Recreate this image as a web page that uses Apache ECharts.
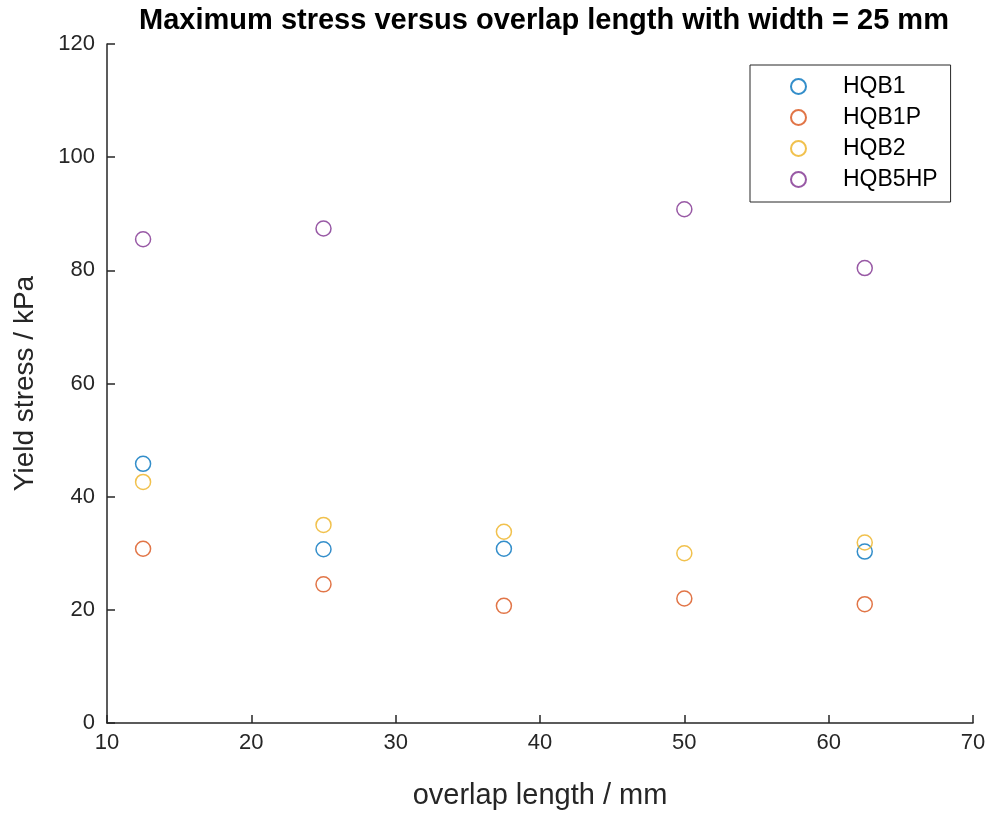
<!DOCTYPE html>
<html>
<head>
<meta charset="utf-8">
<script src="https://cdn.jsdelivr.net/npm/echarts@6/dist/echarts.min.js"></script>
<style>
  html, body { margin: 0; padding: 0; background: #fff; }
  #chart { width: 992px; height: 815px; }
</style>
</head>
<body>
<div id="chart"></div>
<script>
// Overlap lengths (mm) at which each specimen set was tested
const overlapLengths = [12.5, 25, 37.5, 50, 62.5];

// Maximum (yield) stress in kPa per specimen set; null = no measurement
const hqb1   = [45.8, 30.7, 30.8, null, 30.3];
const hqb1p  = [30.8, 24.5, 20.7, 22.0, 21.0];
const hqb2   = [42.6, 35.0, 33.8, 30.0, 31.9];
const hqb5hp = [85.5, 87.4, null, 90.8, 80.4];

const seriesNames = ['HQB1', 'HQB1P', 'HQB2', 'HQB5HP'];
const seriesColors = ['#0072BD', '#D95319', '#EDB120', '#7E2F8E'];
const seriesValues = [hqb1, hqb1p, hqb2, hqb5hp];

const FONT = '"Liberation Sans", Arial, Helvetica, sans-serif';
const AXIS_COLOR = '#262626';

const chart = echarts.init(document.getElementById('chart'), null, { renderer: 'canvas' });

const series = seriesNames.map((name, i) => ({
  name,
  type: 'scatter',
  symbol: 'circle',
  symbolSize: 15,
  data: overlapLengths
    .map((x, j) => [x, seriesValues[i][j]])
    .filter(p => p[1] !== null),
  itemStyle: { color: 'rgba(0,0,0,0)', borderColor: seriesColors[i], borderWidth: 1.5 },
  emphasis: { disabled: true }
}));

chart.setOption({
  animation: false,
  backgroundColor: '#ffffff',
  title: {
    text: 'Maximum stress versus overlap length with width = 25 mm',
    left: 539, top: 1, textAlign: 'center',
    textStyle: { fontFamily: FONT, fontSize: 29, fontWeight: 'bold', color: '#000' }
  },
  legend: {
    orient: 'vertical',
    left: 750, top: 65,
    padding: [10, 13, 11, 40],
    itemWidth: 15, itemHeight: 15, itemGap: 8,
    borderColor: '#262626', borderWidth: 1,
    backgroundColor: '#fff',
    textStyle: { fontFamily: FONT, fontSize: 23, color: '#000', padding: [0, 0, 0, 32] },
    data: seriesNames
  },
  grid: { left: 107, right: 19, top: 44, bottom: 86, containLabel: false },
  xAxis: {
    type: 'value', min: 10, max: 70, interval: 10,
    name: 'overlap length / mm', nameLocation: 'middle', nameGap: 58,
    nameTextStyle: { fontFamily: FONT, fontSize: 29, color: AXIS_COLOR },
    axisLine: { show: true, lineStyle: { color: AXIS_COLOR, width: 1.5 } },
    axisTick: { show: true, inside: true, length: 8, lineStyle: { color: AXIS_COLOR, width: 1.5 } },
    axisLabel: { fontFamily: FONT, fontSize: 22, color: AXIS_COLOR, margin: 9 },
    splitLine: { show: false }
  },
  yAxis: {
    type: 'value', min: 0, max: 120, interval: 20,
    name: 'Yield stress / kPa', nameLocation: 'middle', nameGap: 68,
    nameTextStyle: { fontFamily: FONT, fontSize: 28, color: AXIS_COLOR },
    axisLine: { show: true, lineStyle: { color: AXIS_COLOR, width: 1.5 } },
    axisTick: { show: true, inside: true, length: 8, lineStyle: { color: AXIS_COLOR, width: 1.5 } },
    axisLabel: { fontFamily: FONT, fontSize: 22, color: AXIS_COLOR, margin: 12 },
    splitLine: { show: false }
  },
  series
});
</script>
</body>
</html>
